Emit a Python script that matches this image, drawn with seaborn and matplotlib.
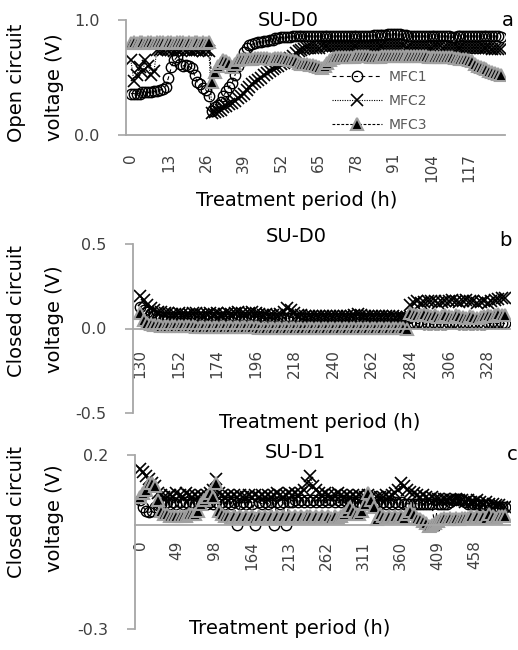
import matplotlib
matplotlib.use("Agg")
import matplotlib.pyplot as plt
import seaborn as sns

sns.set_style("white")
plt.rcParams['font.family'] = ['DejaVu Sans']

SERIES = ["MFC1", "MFC2", "MFC3"]

# ---------------- Panel a: open circuit voltage, SU-D0 (hourly, 0-128 h) ----------------
A_HOURS = list(range(0, 129))
A_MFC1 = [0.36, 0.36, 0.36, 0.36, 0.37, 0.37, 0.37, 0.37, 0.38, 0.38, 0.39, 0.40, 0.42,
          0.50, 0.59, 0.65, 0.68, 0.62, 0.60, 0.61, 0.60, 0.58, 0.52, 0.46, 0.44, 0.41,
          0.39, 0.34, 0.21,
          0.24, 0.26, 0.29, 0.34, 0.38, 0.42, 0.45, 0.52, 0.60, 0.66, 0.72, 0.76, 0.78,
          0.79, 0.80, 0.81, 0.81, 0.82, 0.82, 0.83, 0.83, 0.84,
          0.84, 0.85, 0.85, 0.85, 0.85, 0.86, 0.86, 0.86, 0.86, 0.86,
          0.86, 0.86, 0.86, 0.86, 0.86, 0.86, 0.86, 0.86, 0.86, 0.86,
          0.86, 0.86, 0.86, 0.86, 0.86, 0.86, 0.86, 0.86, 0.86, 0.86,
          0.86, 0.86, 0.86, 0.87, 0.87, 0.87, 0.87, 0.87, 0.88, 0.88,
          0.88, 0.88, 0.88, 0.87, 0.87, 0.86, 0.86, 0.86, 0.86, 0.86,
          0.86, 0.86, 0.86, 0.86, 0.86, 0.86, 0.86, 0.86, 0.86, 0.86,
          0.85, 0.85, 0.86, 0.86, 0.86, 0.86, 0.86, 0.86, 0.86, 0.86,
          0.86, 0.86, 0.86, 0.86, 0.86, 0.86, 0.86, 0.85]
A_MFC2 = [0.65, 0.47, 0.52, 0.59, 0.55, 0.65, 0.60, 0.52, 0.56, 0.74,
          0.74, 0.74, 0.75, 0.74, 0.74, 0.73, 0.74, 0.74, 0.75, 0.74,
          0.74, 0.73, 0.74, 0.74, 0.74, 0.73, 0.74, 0.73, 0.19,
          0.20, 0.21, 0.22, 0.24, 0.25, 0.27, 0.28, 0.30, 0.32, 0.34,
          0.36, 0.39, 0.42, 0.44, 0.46, 0.48, 0.50, 0.52, 0.54, 0.56,
          0.57, 0.59, 0.60, 0.62, 0.63, 0.65, 0.67, 0.69, 0.71, 0.73,
          0.74, 0.75,
          0.76, 0.76, 0.76, 0.76, 0.76, 0.77, 0.77, 0.77, 0.77, 0.77,
          0.77, 0.77, 0.77, 0.77, 0.77, 0.77, 0.77, 0.77, 0.77, 0.77,
          0.77, 0.77, 0.77, 0.77, 0.77, 0.77, 0.77, 0.77, 0.77, 0.77,
          0.77, 0.77, 0.77, 0.77, 0.76, 0.76, 0.76, 0.76, 0.76, 0.76,
          0.76, 0.76, 0.76, 0.76, 0.77, 0.77, 0.77, 0.76, 0.76, 0.76,
          0.76, 0.76, 0.76, 0.76, 0.76, 0.76, 0.76, 0.76, 0.76, 0.76,
          0.76, 0.76, 0.76, 0.76, 0.75, 0.75, 0.75, 0.75]
A_MFC3 = [0.80, 0.81, 0.80, 0.81, 0.81, 0.80, 0.81, 0.81, 0.80, 0.81,
          0.81, 0.81, 0.80, 0.81, 0.81, 0.80, 0.81, 0.81, 0.81, 0.80,
          0.81, 0.80, 0.81, 0.81, 0.80, 0.81, 0.80, 0.81,
          0.46, 0.55, 0.60, 0.63, 0.65, 0.64, 0.63, 0.59, 0.62, 0.65, 0.66, 0.66, 0.66,
          0.66, 0.66, 0.67, 0.67, 0.67, 0.67, 0.67, 0.66, 0.66, 0.67,
          0.67, 0.67, 0.66, 0.66, 0.65, 0.65, 0.64, 0.63, 0.62, 0.62,
          0.62, 0.61, 0.61, 0.60, 0.59, 0.58, 0.60, 0.63, 0.65, 0.67,
          0.68, 0.68, 0.68, 0.68, 0.68, 0.68, 0.68, 0.69, 0.69, 0.69,
          0.69, 0.69, 0.68, 0.68, 0.68, 0.68, 0.69, 0.69, 0.69, 0.69,
          0.69, 0.69, 0.69, 0.69, 0.69, 0.69, 0.69, 0.69, 0.69, 0.69,
          0.69, 0.69, 0.68, 0.68, 0.68, 0.68, 0.68, 0.68, 0.68, 0.68,
          0.68, 0.67, 0.67, 0.66,
          0.66, 0.66, 0.65, 0.64, 0.62, 0.60, 0.59, 0.58, 0.57, 0.56,
          0.55, 0.54, 0.53, 0.52]
A_TICKS = [0, 13, 26, 39, 52, 65, 78, 91, 104, 117]

# ---------------- Panel b: closed circuit voltage, SU-D0 (130-338 h) ----------------
B_HOURS = list(range(130, 339, 2))
B_MFC1 = [0.13, 0.11, 0.10, 0.09, 0.08, 0.075, 0.07, 0.07, 0.07, 0.07,
          0.07, 0.07, 0.07, 0.07, 0.07, 0.07, 0.07, 0.07, 0.07, 0.07,
          0.07, 0.07, 0.07, 0.07, 0.07, 0.07, 0.07, 0.07, 0.07, 0.07,
          0.07, 0.07, 0.07, 0.07, 0.07, 0.07, 0.065, 0.065, 0.065, 0.065,
          0.065, 0.065, 0.065, 0.065, 0.065, 0.065, 0.065, 0.065, 0.065, 0.065,
          0.065, 0.065, 0.065, 0.065, 0.065, 0.065, 0.065, 0.065, 0.065, 0.065,
          0.06, 0.06, 0.06, 0.06, 0.06, 0.06, 0.06, 0.06, 0.06, 0.06,
          0.06, 0.06, 0.06, 0.06, 0.06, 0.06, 0.06,
          0.03, 0.03, 0.03, 0.03, 0.025, 0.025, 0.025, 0.025, 0.025, 0.025,
          0.025, 0.03, 0.03, 0.03, 0.025, 0.025, 0.025, 0.025, 0.025, 0.025,
          0.025, 0.025, 0.03, 0.03, 0.03, 0.03, 0.03, 0.03]
B_MFC2 = [0.19, 0.17, 0.14, 0.12, 0.11, 0.10, 0.095, 0.09, 0.09, 0.085,
          0.085, 0.09, 0.085, 0.08, 0.085, 0.09, 0.09, 0.085, 0.08, 0.085,
          0.09, 0.085, 0.09, 0.08, 0.085, 0.09, 0.085, 0.09, 0.095, 0.09,
          0.085, 0.09, 0.095, 0.09, 0.085, 0.08, 0.085, 0.08, 0.08, 0.08,
          0.085, 0.10, 0.12, 0.11, 0.09, 0.08, 0.08, 0.075, 0.075, 0.075,
          0.075, 0.075, 0.075, 0.075, 0.075, 0.075, 0.075, 0.075, 0.075, 0.075,
          0.075, 0.08, 0.085, 0.08, 0.075, 0.075, 0.075, 0.075, 0.075, 0.075,
          0.075, 0.075, 0.075, 0.07, 0.07, 0.07, 0.07,
          0.14, 0.15, 0.16, 0.15, 0.155, 0.16, 0.165, 0.16, 0.15, 0.155,
          0.16, 0.165, 0.17, 0.16, 0.155, 0.16, 0.17, 0.165, 0.16, 0.15,
          0.155, 0.16, 0.15, 0.16, 0.17, 0.175, 0.18, 0.18]
B_MFC3 = [0.09, 0.05, 0.03, 0.025, 0.02, 0.02, 0.015, 0.015, 0.015, 0.015,
          0.015, 0.015, 0.015, 0.015, 0.015, 0.015, 0.01, 0.01, 0.01, 0.01,
          0.01, 0.01, 0.01, 0.01, 0.01, 0.01, 0.01, 0.01, 0.01, 0.01,
          0.01, 0.01, 0.01, 0.01, 0.005, 0.005, 0.005, 0.005, 0.005, 0.005,
          0.005, 0.005, 0.005, 0.005, 0.005, 0.005, 0.005, 0.005, 0.005, 0.005,
          0.005, 0.005, 0.005, 0.005, 0.005, 0.005, 0.005, 0.005, 0.005, 0.005,
          0.005, 0.005, 0.005, 0.005, 0.005, 0.005, 0.005, 0.005, 0.005, 0.005,
          0.005, 0.005, 0.005, 0.005, 0.005, 0.005, 0.0,
          0.09, 0.085, 0.08, 0.08, 0.085, 0.08, 0.075, 0.08, 0.07, 0.075,
          0.08, 0.075, 0.07, 0.08, 0.075, 0.07, 0.065, 0.075, 0.07, 0.065,
          0.07, 0.075, 0.08, 0.075, 0.08, 0.085, 0.08, 0.08]
B_TICKS = [130, 152, 174, 196, 218, 240, 262, 284, 306, 328]

# ---------------- Panel c: closed circuit voltage, SU-D1 (category positions) ----------------
C_INDEX = list(range(0, 481, 4))
C_MFC1 = [0.07, 0.05, 0.04, 0.035, 0.04, 0.05, 0.055, 0.06, 0.06, 0.065,
          0.06, 0.065, 0.06, 0.065, 0.06, 0.065, 0.06, 0.065, 0.06, 0.065,
          0.06, 0.065, 0.06, 0.065, 0.06, 0.065, 0.06, 0.065, 0.06, 0.065,
          0.06, 0.065, 0.0, 0.06, 0.065, 0.06, 0.065, 0.06, 0.0, 0.065,
          0.06, 0.065, 0.06, 0.065, 0.0, 0.065, 0.06, 0.065, 0.0, 0.065,
          0.065, 0.07, 0.065, 0.07, 0.065, 0.07, 0.065, 0.07, 0.065, 0.07,
          0.065, 0.07, 0.065, 0.07, 0.065, 0.07, 0.065, 0.07, 0.065, 0.065,
          0.065, 0.06, 0.065, 0.06, 0.065, 0.06, 0.065, 0.06, 0.065, 0.06,
          0.065, 0.06, 0.065, 0.06, 0.065, 0.06, 0.065, 0.06, 0.06, 0.06,
          0.06, 0.06, 0.06, 0.06, 0.06, 0.06, 0.06, -0.005, 0.06, 0.06,
          0.06, 0.06, 0.065, 0.07, 0.075, 0.075, 0.07, 0.065, 0.06, 0.06,
          0.06, 0.06, 0.055, 0.055, 0.055, 0.055, 0.05, 0.05, 0.05, 0.05, 0.05]
C_MFC2 = [0.16, 0.15, 0.14, 0.13, 0.12, 0.11, 0.09, 0.085, 0.08, 0.08,
          0.085, 0.08, 0.09, 0.085, 0.08, 0.09, 0.085, 0.08, 0.085, 0.08,
          0.085, 0.08, 0.085, 0.09, 0.10, 0.13, 0.09, 0.085, 0.08, 0.085,
          0.08, 0.085, 0.08, 0.085, 0.08, 0.08, 0.085, 0.08, 0.085, 0.08,
          0.085, 0.08, 0.085, 0.08, 0.085, 0.09, 0.085, 0.08, 0.085, 0.09,
          0.085, 0.09, 0.085, 0.09, 0.10, 0.12, 0.14, 0.11, 0.10, 0.09,
          0.085, 0.09, 0.085, 0.08, 0.085, 0.09, 0.085, 0.08, 0.085, 0.08,
          0.085, 0.08, 0.085, 0.08, 0.08, 0.085, 0.08, 0.075, 0.08, 0.08,
          0.08, 0.085, 0.08, 0.085, 0.09, 0.10, 0.12, 0.11, 0.10, 0.095,
          0.09, 0.085, 0.08, 0.085, 0.08, 0.075, 0.08, 0.075, 0.075, 0.07,
          0.075, 0.07, 0.075, 0.07, 0.075, 0.07, 0.07, 0.065, 0.07, 0.065,
          0.065, 0.07, 0.065, 0.06, 0.065, 0.06, 0.06, 0.055, 0.055, 0.05, 0.05]
C_MFC3 = [0.08, 0.09, 0.10, 0.12, 0.12, 0.11, 0.07, 0.04, 0.03, 0.03,
          0.025, 0.025, 0.025, 0.025, 0.025, 0.025, 0.03, 0.03, 0.03, 0.04,
          0.06, 0.07, 0.08, 0.09, 0.08, 0.12, 0.04, 0.03, 0.025, 0.025,
          0.02, 0.025, 0.02, 0.025, 0.02, 0.025, 0.02, 0.025, 0.02, 0.025,
          0.02, 0.025, 0.02, 0.025, 0.02, 0.025, 0.02, 0.025, 0.02, 0.025,
          0.02, 0.025, 0.02, 0.025, 0.02, 0.025, 0.025, 0.02, 0.025, 0.02,
          0.025, 0.02, 0.025, 0.02, 0.025, 0.02, 0.025, 0.03, 0.04, 0.05,
          0.04, 0.03, 0.03, 0.04, 0.06, 0.09, 0.07, 0.05, 0.017, 0.03,
          0.025, 0.02, 0.025, 0.02, 0.025, 0.02, 0.025, 0.02, 0.03, 0.04,
          0.03, 0.02, 0.015, 0.01, 0.005, -0.005, 0.0, 0.005, 0.01, 0.015,
          0.02, 0.015, 0.02, 0.015, 0.02, 0.015, 0.02, 0.02, 0.02, 0.025,
          0.02, 0.025, 0.02, 0.025, 0.02, 0.03, 0.025, 0.02, 0.025, 0.025, 0.025]
C_TICK_POS = [0, 49, 98, 147, 196, 245, 294, 343, 392, 441]
C_TICK_LABELS = ["0", "49", "98", "164", "213", "262", "311", "360", "409", "458"]

# ---------------- styling ----------------
W, H = 518, 650
AX_GRAY = "#a6a6a6"
TXT = "#404040"
STYLES = {
    "MFC1": dict(marker="o", markersize=7.5, markerfacecolor="none",
                 markeredgecolor="black", markeredgewidth=1.0,
                 color="black", linewidth=0.8, dashes=(3.5, 3)),
    "MFC2": dict(marker="x", markersize=8.5, markeredgecolor="black",
                 markeredgewidth=1.2, color="black", linewidth=0.8,
                 dashes=(1, 1.2)),
    "MFC3": dict(marker="^", markersize=8, markerfacecolor="black",
                 markeredgecolor="#a0a0a0", markeredgewidth=1.5,
                 color="black", linewidth=0.8, dashes=(2.5, 1.5)),
}

fig = plt.figure(figsize=(W / 100, H / 100), dpi=100)


def add_ax(x0, x1, y_top, y_bot):
    return fig.add_axes([x0 / W, 1 - y_bot / H, (x1 - x0) / W, (y_bot - y_top) / H])


def style_ax(ax, zero_axis):
    for s in ["top", "right"]:
        ax.spines[s].set_visible(False)
    for s in ["left", "bottom"]:
        ax.spines[s].set_color(AX_GRAY)
        ax.spines[s].set_linewidth(1.3)
    if zero_axis:
        ax.spines["bottom"].set_position(("data", 0))
    ax.tick_params(axis="y", direction="out", length=6, width=1.2, color=AX_GRAY,
                   labelsize=11.5, labelcolor=TXT, pad=13, left=True)
    ax.tick_params(axis="x", length=0, labelsize=11, labelcolor=TXT, bottom=True)
    ax.grid(False)
    ax.set_xlabel("")
    ax.set_ylabel("")


def draw(ax, x, ys):
    for name, y in zip(SERIES, ys):
        sns.lineplot(x=x, y=y, ax=ax, estimator=None, sort=False, legend=False,
                     label=name, **STYLES[name])


# panel a
ax_a = add_ax(126, 505, 20, 135)
draw(ax_a, A_HOURS, [A_MFC1, A_MFC2, A_MFC3])
ax_a.set_xlim(-1.7, 129.4)
ax_a.set_ylim(0, 1.0)
style_ax(ax_a, False)
ax_a.set_yticks([0.0, 1.0])
ax_a.set_yticklabels(["0.0", "1.0"])
ax_a.set_xticks(A_TICKS)
ax_a.set_xticklabels([str(t) for t in A_TICKS], rotation=90)
ax_a.tick_params(axis="x", pad=13)
handles = ax_a.get_lines()[:3]
ax_a.legend(handles, SERIES, loc="upper left", frameon=False,
            bbox_to_anchor=(332 / W, 1 - 70 / H), bbox_transform=fig.transFigure,
            borderpad=0, borderaxespad=0, handlelength=3.6, handletextpad=0.5,
            labelspacing=0.72, fontsize=10, labelcolor="#595959")

# panel b
ax_b = add_ax(133, 510, 244, 413)
draw(ax_b, B_HOURS, [B_MFC1, B_MFC2, B_MFC3])
ax_b.set_xlim(126, 340.8)
ax_b.set_ylim(-0.5, 0.5)
style_ax(ax_b, True)
ax_b.set_yticks([-0.5, 0.0, 0.5])
ax_b.set_yticklabels(["-0.5", "0.0", "0.5"])
ax_b.set_xticks(B_TICKS)
ax_b.set_xticklabels([str(t) for t in B_TICKS], rotation=90)
ax_b.tick_params(axis="x", pad=15)

# panel c
ax_c = add_ax(135, 510, 455, 629)
draw(ax_c, C_INDEX, [C_MFC1, C_MFC2, C_MFC3])
ax_c.set_xlim(-6.6, 487)
ax_c.set_ylim(-0.3, 0.2)
style_ax(ax_c, True)
ax_c.set_yticks([-0.3, 0.2])
ax_c.set_yticklabels(["-0.3", "0.2"])
ax_c.set_xticks(C_TICK_POS)
ax_c.set_xticklabels(C_TICK_LABELS, rotation=90)
ax_c.tick_params(axis="x", pad=11.5)

for ax in (ax_b, ax_c):
    if ax.get_legend() is not None:
        ax.get_legend().remove()


def ftxt(x, y, s, size, rot=0, ha="center", color="black"):
    fig.text(x / W, 1 - y / H, s, fontsize=size, rotation=rot, ha=ha, va="center",
             color=color)


LBL = 14
ftxt(288, 20, "SU-D0", 14)
ftxt(508, 20, "a", 14)
ftxt(296, 236, "SU-D0", 14)
ftxt(505, 240, "b", 14)
ftxt(295, 453, "SU-D1", 14)
ftxt(512, 455, "c", 14)
ftxt(297, 200, "Treatment period (h)", LBL)
ftxt(320, 423, "Treatment period (h)", LBL)
ftxt(290, 628, "Treatment period (h)", LBL)
ftxt(17, 83, "Open circuit", LBL, rot=90)
ftxt(55, 87, "voltage (V)", LBL, rot=90)
ftxt(17, 311, "Closed circuit", LBL, rot=90)
ftxt(55, 319, "voltage (V)", LBL, rot=90)
ftxt(17, 512, "Closed circuit", LBL, rot=90)
ftxt(55, 518, "voltage (V)", LBL, rot=90)

fig.savefig("out.png", dpi=100)
